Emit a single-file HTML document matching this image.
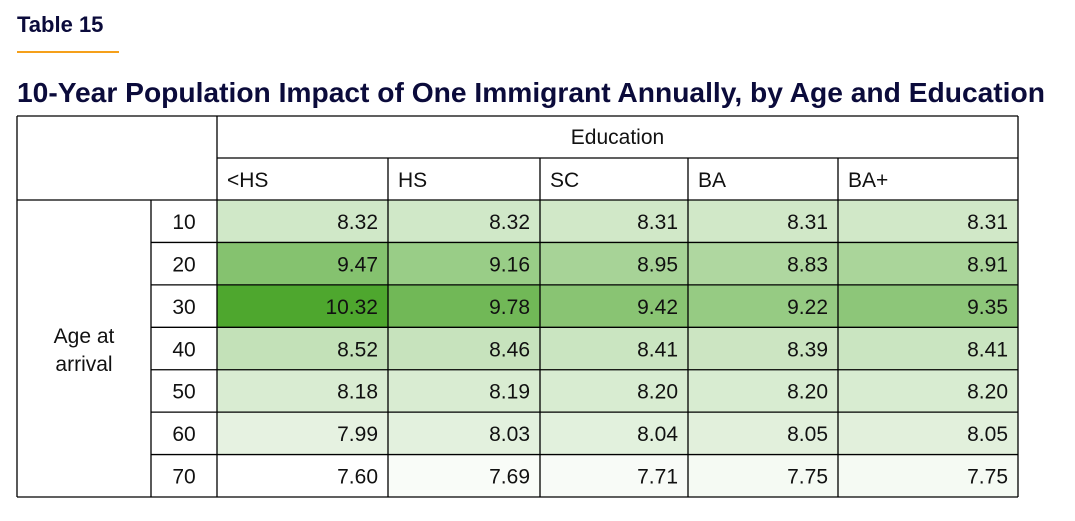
<!DOCTYPE html>
<html><head><meta charset="utf-8"><style>
body{margin:0;width:1075px;height:521px;background:#fff;font-family:"Liberation Sans",sans-serif;position:relative;overflow:hidden}
.lbl{position:absolute;left:17px;top:12px;font-weight:bold;font-size:22px;color:#0b0b3b}
.rule{position:absolute;left:17px;top:51px;width:102px;height:2px;background:#f5a01a}
.title{position:absolute;left:17px;top:76px;font-weight:bold;font-size:28.2px;color:#0b0b3b;white-space:nowrap}
svg{position:absolute;left:0;top:0}
svg text{font-family:"Liberation Sans",sans-serif;font-size:21px;fill:#111}
</style></head><body>
<div class="lbl">Table 15</div>
<div class="rule"></div>
<div class="title">10-Year Population Impact of One Immigrant Annually, by Age and Education</div>
<svg id="t" width="1075" height="521"></svg>
<script>
const categories=["<HS","HS","SC","BA","BA+"];
const ages=["10","20","30","40","50","60","70"];
const values=[
[8.32,8.32,8.31,8.31,8.31],
[9.47,9.16,8.95,8.83,8.91],
[10.32,9.78,9.42,9.22,9.35],
[8.52,8.46,8.41,8.39,8.41],
[8.18,8.19,8.20,8.20,8.20],
[7.99,8.03,8.04,8.05,8.05],
[7.60,7.69,7.71,7.75,7.75]];
const svg=document.getElementById('t');const NS='http://www.w3.org/2000/svg';
const colX=[217,388,540,688,838,1018];
const rowTop=200,rowH=42.43,L=17,R=1018,T=116;
const all=values.flat();const mn=Math.min(...all),mx=Math.max(...all);
function color(v){const t=(v-mn)/(mx-mn);const c=[255-177*t,255-88*t,255-209*t].map(Math.round);return `rgb(${c})`;}
function el(tag,a,txt){const e=document.createElementNS(NS,tag);for(const k in a)e.setAttribute(k,a[k]);if(txt!==undefined)e.textContent=txt;svg.appendChild(e);return e;}
values.forEach((row,i)=>row.forEach((v,j)=>{
 const r=el('rect',{x:colX[j],y:rowTop+i*rowH,width:colX[j+1]-colX[j],height:rowH,fill:color(v)});
 
 
 const t=el('text',{x:colX[j+1]-10,y:rowTop+i*rowH+29,'text-anchor':'end'},v.toFixed(2));
 
 
}));
const B=rowTop+ages.length*rowH;
function line(x1,y1,x2,y2){el('line',{x1,y1,x2,y2,stroke:'#000','stroke-width':1.3});}
line(L,T,R,T);line(L,rowTop,R,rowTop);line(L,B,R,B);line(colX[0],158,R,158);
line(L,T,L,B);line(R,T,R,B);line(colX[0],T,colX[0],B);line(151,rowTop,151,B);
for(let j=1;j<5;j++)line(colX[j],158,colX[j],B);
for(let i=1;i<ages.length;i++)line(151,rowTop+i*rowH,R,rowTop+i*rowH);
const h=el('text',{x:(colX[0]+R)/2,y:144,'text-anchor':'middle'},'Education');


categories.forEach((c,j)=>{const t=el('text',{x:colX[j]+10,y:187},c);
 
 });
ages.forEach((a,i)=>{const t=el('text',{x:184,y:rowTop+i*rowH+29,'text-anchor':'middle'},a);
 
 });
const a1=el('text',{x:84,y:343,'text-anchor':'middle'},'Age at');


const a2=el('text',{x:84,y:371,'text-anchor':'middle'},'arrival');


</script>
</body></html>
